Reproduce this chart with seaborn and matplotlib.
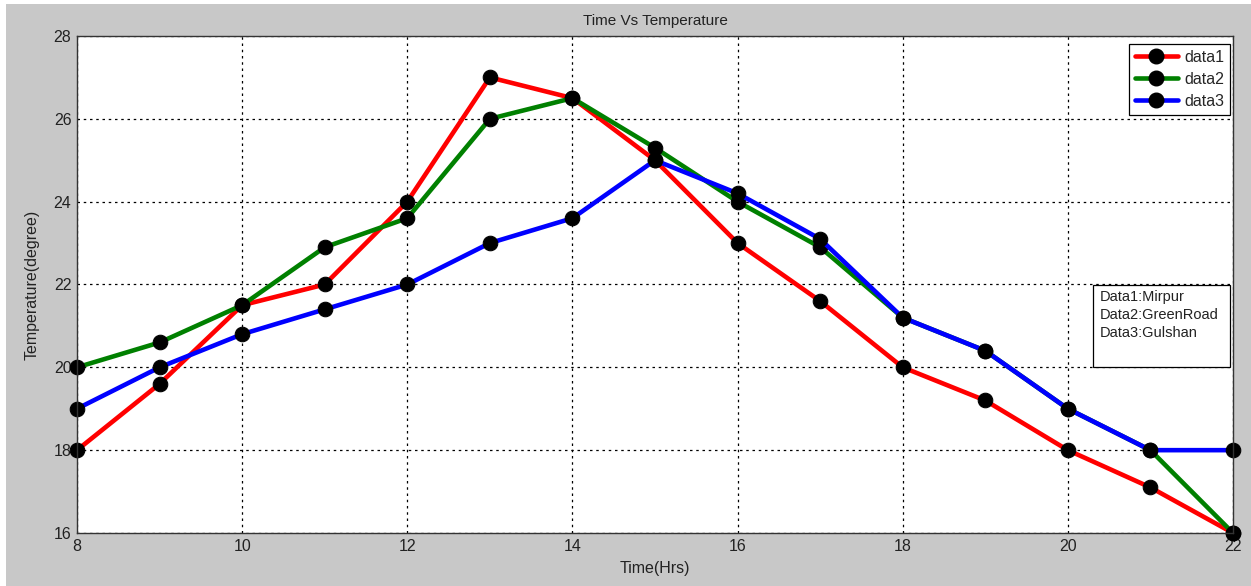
import numpy as np
import pandas as pd
import matplotlib
matplotlib.use("Agg")
import matplotlib.pyplot as plt
from matplotlib.lines import Line2D
from matplotlib.patches import Rectangle
import seaborn as sns

# values
hours = [8, 9, 10, 11, 12, 13, 14, 15, 16, 17, 18, 19, 20, 21, 22]
data1 = [18, 19.6, 21.5, 22, 24, 27, 26.5, 25, 23, 21.6, 20, 19.2, 18, 17.1, 16]
data2 = [20, 20.6, 21.5, 22.9, 23.6, 26, 26.5, 25.3, 24, 22.9, 21.2, 20.4, 19, 18, 16]
data3 = [19, 20, 20.8, 21.4, 22, 23, 23.6, 25, 24.2, 23.1, 21.2, 20.4, 19, 18, 18]
series_names = ["data1", "data2", "data3"]
series_colors = ["#ff0000", "#008000", "#0000ff"]
note_text = "Data1:Mirpur\nData2:GreenRoad\nData3:Gulshan"

df = pd.DataFrame({
    "time": hours * 3,
    "temp": data1 + data2 + data3,
    "series": np.repeat(series_names, len(hours)),
})

sns.set_theme(style="white")
plt.rcParams["font.family"] = ["Liberation Sans", "DejaVu Sans"]

fig = plt.figure(figsize=(12.51, 5.86), dpi=100, facecolor="white")
# MATLAB-like grey figure panel
fig.patches.append(Rectangle((6 / 1251, 0), 1 - 6 / 1251, 1 - 4 / 586,
                             transform=fig.transFigure, facecolor="#c8c8c8",
                             edgecolor="none", zorder=-10))
ax = fig.add_axes([77 / 1251, 53 / 586, 1156 / 1251, 497 / 586])
ax.set_facecolor("white")

sns.lineplot(data=df, x="time", y="temp", hue="series", hue_order=series_names,
             palette=series_colors, marker="o", markersize=10.5,
             markerfacecolor="black", markeredgecolor="black",
             linewidth=3.3, legend=False, ax=ax, clip_on=False)

ax.set_xlim(8, 22)
ax.set_ylim(16, 28)
ax.set_xticks(range(8, 23, 2))
ax.set_yticks(range(16, 29, 2))
ax.grid(True, color="black", linestyle=(0, (2, 3)), linewidth=0.9)
ax.tick_params(direction="in", length=5, width=0.8, color="black",
               labelsize=11.5, labelcolor="#222222", pad=4)
for s in ax.spines.values():
    s.set_color("#333333")
    s.set_linewidth(1.0)

ax.set_title("Time Vs Temperature", fontsize=11, color="#222222", pad=8)
ax.set_xlabel("Time(Hrs)", fontsize=11.5, color="#222222", labelpad=5)
ax.set_ylabel("Temperature(degree)", fontsize=11.5, color="#222222", labelpad=10)

handles = [Line2D([0], [0], color=c, linewidth=3.3, marker="o", markersize=10.5,
                  markerfacecolor="black", markeredgecolor="black")
           for c in series_colors]
leg = ax.legend(handles, series_names, loc="upper right", fontsize=11.5,
                frameon=True, fancybox=False, handlelength=2.7,
                bbox_to_anchor=(0.9974, 0.984), borderaxespad=0,
                labelspacing=0.45, handletextpad=0.4, borderpad=0.35)
leg.get_frame().set_edgecolor("black")
leg.get_frame().set_linewidth(0.9)
leg.get_frame().set_alpha(1)

# annotation box with location names
ax.add_patch(Rectangle((0.879, 0.334), 0.1184, 0.165, transform=ax.transAxes,
                       facecolor="white", edgecolor="black", linewidth=0.9,
                       zorder=5))
ax.text(0.885, 0.488, note_text, transform=ax.transAxes, fontsize=10.5,
        va="top", ha="left", linespacing=1.35, color="#222222", zorder=6)

fig.savefig("out.png", dpi=100, facecolor=fig.get_facecolor())
